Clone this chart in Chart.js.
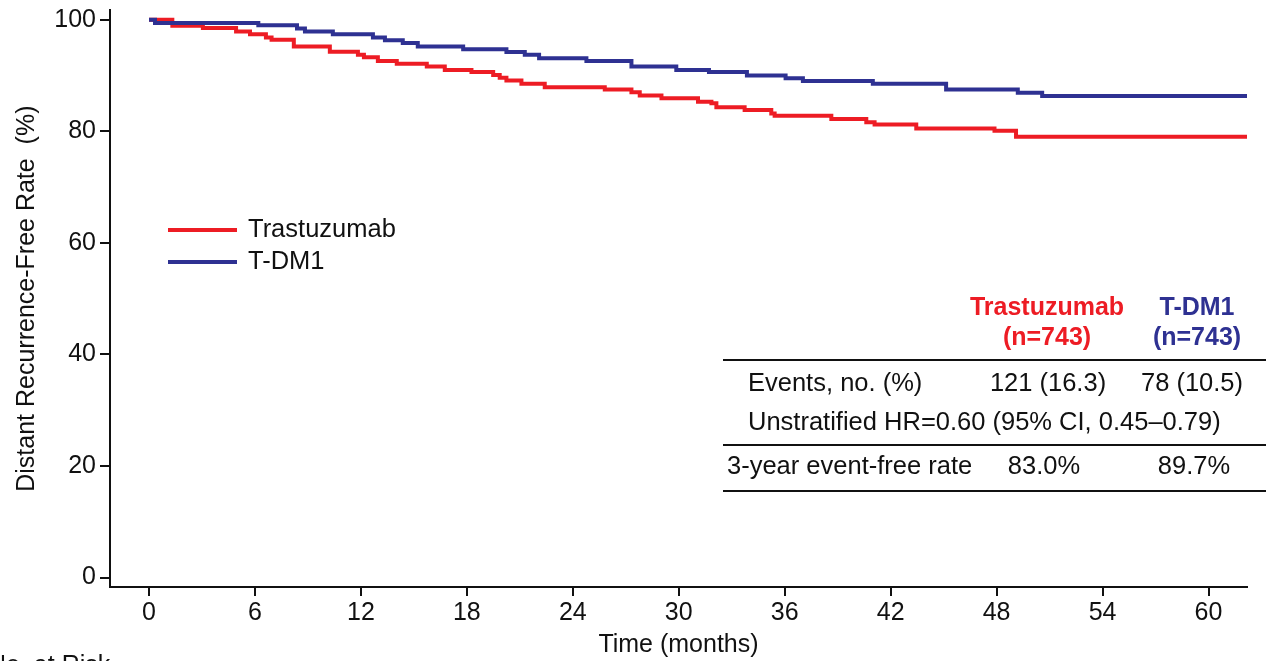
<!DOCTYPE html>
<html><head><meta charset="utf-8">
<script src="https://cdn.jsdelivr.net/npm/chart.js@4.4.1/dist/chart.umd.min.js"></script>
<style>html,body{margin:0;padding:0;background:#fff;overflow:hidden}canvas{display:block}</style>
</head><body>
<canvas id="c" width="1269" height="661"></canvas>
<script>
// ---- data ----
const seriesNames = ['Trastuzumab', 'T-DM1'];
const seriesColors = ['#ED1C24', '#2E3192'];
const trastuzumabMonths = [0, 1.32, 3.05, 4.93, 5.72, 6.62, 6.94, 8.2, 10.24, 11.83, 12.17, 12.96, 14.03, 15.73, 16.75, 18.26, 19.49, 19.86, 20.24, 21.09, 22.41, 25.81, 27.32, 27.79, 29.02, 31.09, 31.85, 32.13, 33.73, 35.24, 35.43, 38.64, 40.62, 41.09, 43.45, 47.88, 49.1, 62.18];
const trastuzumabRate   = [100, 98.9, 98.5, 97.9, 97.4, 96.8, 96.4, 95.2, 94.25, 93.7, 93.25, 92.6, 92.1, 91.6, 91.0, 90.6, 90.1, 89.6, 89.1, 88.5, 87.9, 87.5, 87.0, 86.4, 85.9, 85.3, 85.0, 84.3, 83.8, 83.2, 82.8, 82.2, 81.6, 81.2, 80.5, 80.1, 79.0, 79.0];
const tdm1Months = [0, 0.34, 6.19, 8.38, 8.83, 10.41, 12.68, 13.36, 14.37, 15.22, 17.79, 20.24, 21.28, 22.09, 24.77, 27.32, 29.86, 31.71, 33.86, 36.05, 37.03, 40.99, 45.14, 49.2, 50.58, 62.18];
const tdm1Rate   = [100, 99.4, 99.0, 98.4, 97.9, 97.4, 96.8, 96.3, 95.8, 95.2, 94.7, 94.2, 93.7, 93.1, 92.6, 91.6, 91.0, 90.6, 90.0, 89.5, 89.0, 88.5, 87.5, 86.9, 86.3, 86.3];
const xTickValues = [0, 6, 12, 18, 24, 30, 36, 42, 48, 54, 60];
const yTickValues = [0, 20, 40, 60, 80, 100];
const xTitle = 'Time (months)';
const yTitle = 'Distant Recurrence-Free Rate  (%)';
const tableHeaders = [['Trastuzumab', '(n=743)'], ['T-DM1', '(n=743)']];
const tableRow1 = ['Events, no. (%)', '121 (16.3)', '78 (10.5)'];
const tableRow2 = ['Unstratified HR=0.60 (95% CI, 0.45\u20130.79)'];
const tableRow3 = ['3-year event-free rate', '83.0%', '89.7%'];
const riskLabel = 'No. at Risk';

const FONT = '"Liberation Sans", Arial, Helvetica, sans-serif';
const toPts = (xs, ys) => xs.map((x, i) => ({x: x, y: ys[i]}));

const overlay = {
  id: 'overlay',
  afterDraw(chart) {
    const ctx = chart.ctx;
    ctx.save();
    // legend
    const legY = [230, 262];
    seriesNames.forEach((n, i) => {
      ctx.strokeStyle = seriesColors[i];
      ctx.lineWidth = 4;
      ctx.beginPath(); ctx.moveTo(168, legY[i]); ctx.lineTo(237, legY[i]); ctx.stroke();
      ctx.fillStyle = '#111';
      ctx.font = '25.5px ' + FONT;
      ctx.textAlign = 'left'; ctx.textBaseline = 'middle';
      ctx.fillText(n, 248, legY[i]);
    });
    // table
    const colX = [1047, 1197];
    ctx.textBaseline = 'middle';
    ctx.textAlign = 'center';
    tableHeaders.forEach((h, i) => {
      ctx.fillStyle = seriesColors[i];
      ctx.font = 'bold 25px ' + FONT;
      ctx.fillText(h[0], colX[i], 308);
      ctx.fillText(h[1], colX[i], 338);
    });
    ctx.strokeStyle = '#111'; ctx.lineWidth = 2;
    [360, 445, 491].forEach(y => {
      ctx.beginPath(); ctx.moveTo(723, y); ctx.lineTo(1266, y); ctx.stroke();
    });
    ctx.fillStyle = '#111';
    ctx.font = '25.5px ' + FONT;
    ctx.textAlign = 'left';
    ctx.fillText(tableRow1[0], 748, 384);
    ctx.fillText(tableRow2[0], 748, 423);
    ctx.fillText(tableRow3[0], 727, 467);
    ctx.textAlign = 'center';
    ctx.fillText(tableRow1[1], 1048, 384);
    ctx.fillText(tableRow1[2], 1192, 384);
    ctx.fillText(tableRow3[1], 1044, 467);
    ctx.fillText(tableRow3[2], 1194, 467);
    // no. at risk (cut off)
    ctx.textAlign = 'left'; ctx.textBaseline = 'alphabetic';
    ctx.font = '25px ' + FONT;
    ctx.fillText(riskLabel, -12, 673);
    ctx.restore();
  }
};

new Chart(document.getElementById('c'), {
  type: 'line',
  data: {
    datasets: [
      { label: seriesNames[1], data: toPts(tdm1Months, tdm1Rate), borderColor: seriesColors[1], borderWidth: 4, stepped: true, pointRadius: 0, fill: false },
      { label: seriesNames[0], data: toPts(trastuzumabMonths, trastuzumabRate), borderColor: seriesColors[0], borderWidth: 4, stepped: true, pointRadius: 0, fill: false }
    ]
  },
  options: {
    responsive: false,
    animation: false,
    devicePixelRatio: 1,
    layout: { padding: { top: 7, right: 22, left: 0, bottom: 0 } },
    plugins: { legend: { display: false }, tooltip: { enabled: false } },
    scales: {
      x: {
        type: 'linear', min: -2.21, max: 62.18,
        afterBuildTicks: s => { s.ticks = xTickValues.map(v => ({value: v})); },
        afterFit: s => { s.height = 74; },
        grid: { drawOnChartArea: false, drawTicks: true, tickLength: 9, color: '#111', lineWidth: 2 },
        border: { display: true, color: '#111', width: 2 },
        ticks: { font: { size: 25, family: FONT }, color: '#111', padding: 2, maxRotation: 0, autoSkip: false },
        title: { display: true, text: xTitle, font: { size: 25, family: FONT }, color: '#111', padding: { top: 0, bottom: 1 } }
      },
      y: {
        type: 'linear', min: -1.69, max: 101.69,
        afterBuildTicks: s => { s.ticks = yTickValues.map(v => ({value: v})); },
        afterFit: s => { s.width = 110; },
        grid: { drawOnChartArea: false, drawTicks: true, tickLength: 10, color: '#111', lineWidth: 2 },
        border: { display: true, color: '#111', width: 2 },
        ticks: { font: { size: 25, family: FONT, lineHeight: 0.5 }, color: '#111', padding: 4, autoSkip: false },
        title: { display: true, text: yTitle, font: { size: 25, family: FONT }, color: '#111', padding: { top: 12, bottom: 0 } }
      }
    }
  },
  plugins: [overlay]
});
</script>
</body></html>
